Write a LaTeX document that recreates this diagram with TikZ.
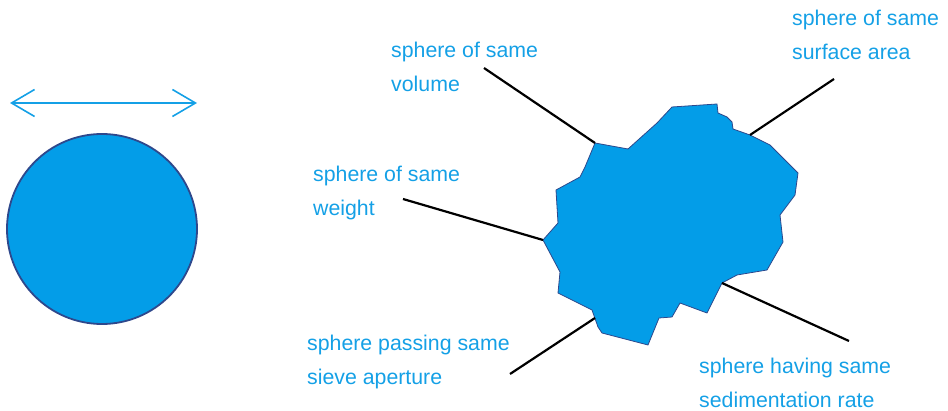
\documentclass[tikz,border=0pt]{standalone}
\usepackage{fontspec}
\setmainfont{Liberation Sans}
\usetikzlibrary{arrows.meta}
\definecolor{txtblue}{RGB}{20,160,230}
\definecolor{fillblue}{RGB}{3,157,232}
\definecolor{edgeblue}{RGB}{46,72,140}
\tikzset{
  lbl/.style={anchor=base west, align=left, inner sep=0pt, text=txtblue,
    font=\fontsize{21.3}{34}\selectfont},
  leader/.style={draw=black, line width=2.2pt},
}
\begin{document}
\begin{tikzpicture}[x=1pt,y=-1pt]
\useasboundingbox (0,0) rectangle (948,411);
% sphere
\node[circle, minimum size=190pt, inner sep=0pt, fill=fillblue, draw=edgeblue, line width=1.8pt] (sph) at (102,229) {};
\coordinate (al) at (10,103);
\coordinate (ar) at (197,103);
\draw[txtblue, line width=1.6pt, {Straight Barb[length=23pt,width=27pt]}-{Straight Barb[length=23pt,width=27pt]}] (al) -- (ar);
% particle
\coordinate (pVol) at (595,143);
\coordinate (pSur) at (750,135);
\coordinate (pWei) at (543,240);
\coordinate (pSie) at (595,318);
\coordinate (pSed) at (722,283);
\fill[fillblue, draw=edgeblue, line width=0.8pt]
 (672,107) -- (717,104) -- (718,113) -- (727,117) -- (732,122) -- (733,129) -- (pSur) -- (770,145) -- (798,173) -- (795,195) -- (780,215) -- (783,242) -- (767,270) -- (737,275) -- (pSed) -- (707,313) -- (680,303) -- (672,317) -- (659,318) -- (648,345) -- (602,333) -- (598,327) -- (592,310) -- (558,293) -- (560,272) -- (pWei) -- (558,223) -- (556,190) -- (580,177) -- (585,167) -- (pVol) -- (628,149) -- (657,123) -- cycle;
% labels (base anchor = baseline of last line)
\node[lbl] (tVol) at (391,92) {sphere of same\\volume};
\node[lbl] (tSur) at (792,60) {sphere of same\\surface area};
\node[lbl] (tWei) at (313,216) {sphere of same\\weight};
\node[lbl] (tSie) at (307,385) {sphere passing same\\sieve aperture};
\node[lbl] (tSed) at (699,408) {sphere having same\\sedimentation rate};
% leader lines
\coordinate (sVol) at (484,68);
\coordinate (sSur) at (834,79);
\coordinate (sWei) at (403,199);
\coordinate (sSie) at (510,374);
\coordinate (sSed) at (849,341);
\draw[leader] (sVol) -- (pVol);
\draw[leader] (sSur) -- (pSur);
\draw[leader] (sWei) -- (pWei);
\draw[leader] (sSie) -- (pSie);
\draw[leader] (sSed) -- (pSed);
\end{tikzpicture}
\end{document}
